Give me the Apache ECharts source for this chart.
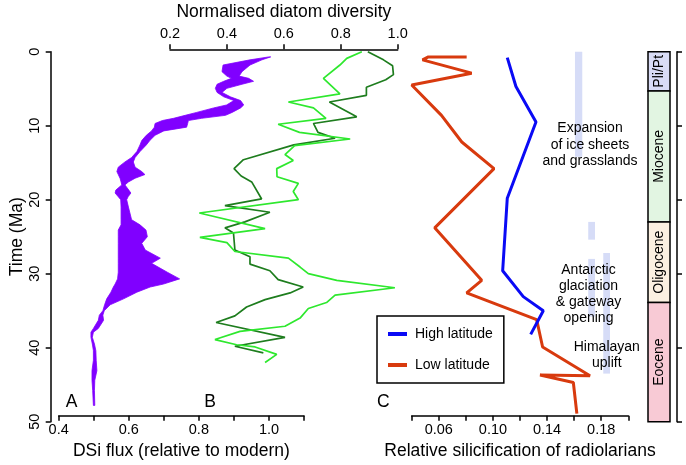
<!DOCTYPE html>
<html>
<head>
    <meta charset="utf-8">
    <title>Silica, diatoms and radiolarians</title>
    <script src="https://cdn.jsdelivr.net/npm/echarts@6/dist/echarts.min.js"></script>
    <style>
        html, body { margin: 0; padding: 0; background: #fff; }
        #main { width: 686px; height: 465px; }
    </style>
</head>
<body>
<div id="main"></div>
<script type="text/javascript">

// time axis (Ma), shared by every panel
var timeTicks = [0, 10, 20, 30, 40, 50];

// A: DSi flux, shaded between lower and upper estimate
var dsiTime = [0.7, 1.1, 1.8, 2.7, 3.3, 3.6, 4.0, 4.4, 4.95, 5.5, 6.1, 6.6, 7.2, 7.6, 8.2, 8.6, 9.0, 9.3, 9.7, 10.2,
    10.7, 11.3, 12.0, 12.6, 13.5, 14.3, 14.9, 15.6, 16.2, 16.6, 17.1, 17.6, 18.0, 18.7, 19.1, 19.6, 20.0, 21.0, 22.7,
    23.4, 24.1, 25.0, 25.9, 26.8, 27.9, 28.6, 29.8, 30.7, 31.4, 31.8, 32.5, 33.4, 34.2, 35.0, 35.6, 36.3, 37.4, 37.9,
    38.6, 39.5, 40.4, 41.7, 43.1, 44.4, 45.8, 47.8];
var dsiLow = [1.000, 0.946, 0.869, 0.866, 0.880, 0.893, 0.871, 0.852, 0.847, 0.852, 0.871, 0.900, 0.879, 0.842, 0.794,
    0.761, 0.728, 0.696, 0.675, 0.673, 0.665, 0.650, 0.637, 0.632, 0.623, 0.608, 0.589, 0.570, 0.566, 0.570, 0.575,
    0.578, 0.580, 0.563, 0.561, 0.570, 0.577, 0.578, 0.578, 0.578, 0.570, 0.570, 0.570, 0.570, 0.570, 0.570, 0.570,
    0.568, 0.561, 0.556, 0.549, 0.537, 0.531, 0.526, 0.516, 0.513, 0.499, 0.492, 0.492, 0.496, 0.499, 0.499, 0.495,
    0.495, 0.497, 0.499];
var dsiHigh = [1.005, 0.980, 0.946, 0.923, 0.915, 0.942, 0.956, 0.923, 0.880, 0.866, 0.890, 0.919, 0.928, 0.919, 0.895,
    0.876, 0.808, 0.770, 0.768, 0.765, 0.700, 0.675, 0.660, 0.650, 0.632, 0.618, 0.613, 0.618, 0.637, 0.646, 0.618,
    0.599, 0.589, 0.600, 0.606, 0.598, 0.594, 0.599, 0.608, 0.632, 0.649, 0.653, 0.637, 0.647, 0.690, 0.665, 0.710,
    0.745, 0.699, 0.661, 0.623, 0.585, 0.547, 0.530, 0.526, 0.528, 0.513, 0.499, 0.496, 0.502, 0.506, 0.507, 0.509,
    0.503, 0.502, 0.503];

// B: normalised diatom diversity, two curves
var darkTime = [0, 1.1, 1.9, 3.1, 3.8, 4.8, 5.9, 6.8, 8.8, 9.7, 10.9, 11.7, 12.6, 14.6, 15.8, 16.8, 17.6, 19.9, 20.8,
    21.7, 23.0, 23.8, 24.5, 26.8, 27.7, 28.7, 29.6, 30.8, 31.8, 32.6, 33.5, 34.5, 35.7, 36.6, 38.6, 39.8, 40.7];
var darkDiv = [0.895, 0.950, 0.982, 0.985, 0.958, 0.890, 0.890, 0.760, 0.856, 0.704, 0.720, 0.780, 0.635, 0.458, 0.425,
    0.450, 0.487, 0.522, 0.393, 0.551, 0.463, 0.393, 0.423, 0.428, 0.481, 0.481, 0.551, 0.580, 0.668, 0.622, 0.534,
    0.469, 0.428, 0.362, 0.604, 0.428, 0.528];
var lightTime = [0, 0.9, 1.8, 3.6, 5.7, 6.8, 7.6, 9.0, 9.8, 10.9, 11.8, 12.7, 13.9, 14.7, 15.8, 16.9, 17.8, 18.9, 20.0,
    21.8, 23.9, 25.1, 25.8, 27.0, 27.9, 29.1, 30.0, 30.9, 31.9, 32.9, 33.9, 34.7, 36.0, 37.1, 37.8, 38.9, 39.6, 39.9,
    40.9, 42.0];
var lightDiv = [0.874, 0.821, 0.797, 0.739, 0.797, 0.616, 0.704, 0.748, 0.580, 0.655, 0.833, 0.638, 0.604, 0.633, 0.575,
    0.576, 0.651, 0.633, 0.651, 0.303, 0.534, 0.305, 0.400, 0.428, 0.616, 0.657, 0.686, 0.786, 0.990, 0.780, 0.750,
    0.686, 0.657, 0.604, 0.446, 0.358, 0.434, 0.499, 0.575, 0.534];

// C: relative silicification of radiolarians
var lowLatTime = [0.7, 0.7, 1.1, 2.9, 4.5, 8.6, 12.2, 15.8, 23.8, 30.9, 32.6, 36.2, 39.9, 43.8, 43.7, 44.7, 48.9];
var lowLatSil = [0.0806, 0.0523, 0.0480, 0.0843, 0.0400, 0.0620, 0.0770, 0.1008, 0.0570, 0.0917, 0.0806, 0.1323,
    0.1367, 0.1717, 0.1348, 0.1594, 0.1620];
var highLatTime = [0.8, 4.7, 9.5, 19.8, 29.6, 33.1, 35.0, 38.2];
var highLatSil = [0.1106, 0.1170, 0.1318, 0.1106, 0.1072, 0.1224, 0.1372, 0.1279];

// epochs (Ma)
var epochNames = ['Pli/Pt', 'Miocene', 'Oligocene', 'Eocene'];
var epochStart = [0, 5.3, 23, 33.9];
var epochEnd = [5.3, 23, 33.9, 50];

// shaded event intervals (Ma)
var eventStart = [0, 23, 28, 27.2];
var eventEnd = [14.2, 25.4, 35.8, 43.5];

// tick positions and labels
var fluxTicks = [0.4, 0.5, 0.6, 0.7, 0.8, 0.9, 1.0, 1.1];
var fluxLabels = ['0.4', '0.6', '0.8', '1.0'];
var divTicks = [0.2, 0.4, 0.6, 0.8, 1.0];
var divLabels = ['0.2', '0.4', '0.6', '0.8', '1.0'];
var silTicks = [0.04, 0.06, 0.08, 0.10, 0.12, 0.14, 0.16, 0.18, 0.20];
var silLabels = ['0.06', '0.10', '0.14', '0.18'];

// styling / layout
var font = 'Liberation Sans, Arial, Helvetica, sans-serif';
var titleSize = 17.5;
var tickSize = 14.5;
var epochColors = ['#d9dcf6', '#e2f5e2', '#fbf0e1', '#f8cad5'];
var eventColumn = [[0.1606, 0.1660], [0.1704, 0.1754], [0.1704, 0.1754], [0.1815, 0.1865]];

function pairs(xs, ts) {
    return ts.map(function (t, i) { return [xs[i], t]; });
}

function labelFmt(labels, digits) {
    return function (v) {
        var s = v.toFixed(digits);
        return labels.indexOf(s) >= 0 ? s : '';
    };
}

function bottomAxis(grid, ticks, labels, digits, name) {
    return {
        gridIndex: grid, type: 'value', position: 'bottom', offset: -6,
        min: ticks[0], max: ticks[ticks.length - 1], interval: ticks[1] - ticks[0],
        name: name, nameLocation: 'middle', nameGap: 22,
        nameTextStyle: { fontSize: titleSize, color: '#000', fontFamily: font },
        axisLine: { onZero: false, lineStyle: { color: '#000', width: 1.5 } },
        axisTick: { length: 5, lineStyle: { color: '#000', width: 1.5 } },
        axisLabel: { fontSize: tickSize, color: '#000', margin: 7, fontFamily: font, formatter: labelFmt(labels, digits) },
        splitLine: { show: false }
    };
}

var timeAxisBase = {
    type: 'value', inverse: true,
    min: timeTicks[0], max: timeTicks[timeTicks.length - 1], interval: timeTicks[1] - timeTicks[0]
};

var textBase = { fontFamily: font, fill: '#000', align: 'center', verticalAlign: 'middle', textAlign: 'center', textVerticalAlign: 'middle' };

var chart = echarts.init(document.getElementById('main'), null, { renderer: 'canvas' });

chart.setOption({
    animation: false,
    backgroundColor: '#fff',
    textStyle: { fontFamily: font },
    grid: [
        { left: 58.7, top: 51.7, width: 245.3, height: 370, outerBoundsMode: 'none' },
        { left: 170, top: 51.7, width: 227.7, height: 370, outerBoundsMode: 'none' },
        { left: 411.7, top: 51.7, width: 216.6, height: 370, outerBoundsMode: 'none' },
        { left: 648, top: 51.7, width: 22, height: 370, outerBoundsMode: 'none' }
    ],
    xAxis: [
        bottomAxis(0, fluxTicks, fluxLabels, 1, 'DSi flux (relative to modern)'),
        {
            gridIndex: 1, type: 'value', position: 'top', offset: 2.4,
            min: divTicks[0], max: divTicks[divTicks.length - 1], interval: divTicks[1] - divTicks[0],
            name: 'Normalised diatom diversity', nameLocation: 'middle', nameGap: 28,
            nameTextStyle: { fontSize: titleSize, color: '#000', fontFamily: font },
            axisLine: { onZero: false, lineStyle: { color: '#000', width: 1.5 } },
            axisTick: { length: 5, lineStyle: { color: '#000', width: 1.5 } },
            axisLabel: { fontSize: tickSize, color: '#000', margin: 8, fontFamily: font, formatter: labelFmt(divLabels, 1) },
            splitLine: { show: false }
        },
        bottomAxis(2, silTicks, silLabels, 2, 'Relative silicification of radiolarians'),
        { gridIndex: 3, type: 'value', min: 0, max: 1, show: false }
    ],
    yAxis: [
        Object.assign({}, timeAxisBase, {
            gridIndex: 0, position: 'left', offset: 8,
            name: 'Time (Ma)', nameLocation: 'middle', nameGap: 25,
            nameTextStyle: { fontSize: titleSize, color: '#000', fontFamily: font },
            axisLine: { onZero: false, lineStyle: { color: '#000', width: 1.5 } },
            axisTick: { length: 5, lineStyle: { color: '#000', width: 1.5 } },
            axisLabel: { fontSize: tickSize, color: '#000', rotate: 90, margin: 8, fontFamily: font },
            splitLine: { show: false }
        }),
        Object.assign({}, timeAxisBase, { gridIndex: 1, show: false }),
        Object.assign({}, timeAxisBase, { gridIndex: 2, show: false }),
        Object.assign({}, timeAxisBase, {
            gridIndex: 3, position: 'right', offset: 7,
            axisLine: { onZero: false, lineStyle: { color: '#000', width: 1.5 } },
            axisTick: { length: 5, lineStyle: { color: '#000', width: 1.5 } },
            axisLabel: { show: false },
            splitLine: { show: false }
        })
    ],
    legend: {
        data: ['High latitude', 'Low latitude'],
        orient: 'vertical', left: 377, top: 316,
        padding: [11, 11, 11, 11], itemGap: 17,
        itemWidth: 19, itemHeight: 4, icon: 'rect',
        borderColor: '#000', borderWidth: 1.5, borderRadius: 0,
        selectedMode: false,
        textStyle: { fontSize: 14, color: '#000', fontFamily: font, padding: [0, 0, 0, 3] }
    },
    graphic: [
        { type: 'text', x: 71.7, y: 401.7, style: Object.assign({ text: 'A', fontSize: 17.5 }, textBase) },
        { type: 'text', x: 210, y: 401.7, style: Object.assign({ text: 'B', fontSize: 17.5 }, textBase) },
        { type: 'text', x: 383.3, y: 401.7, style: Object.assign({ text: 'C', fontSize: 17.5 }, textBase) },
        { type: 'text', z: 10, x: 590, y: 145, style: Object.assign({ text: 'Expansion\nof ice sheets\nand grasslands', lineHeight: 16.5, fontSize: 14 }, textBase) },
        { type: 'text', z: 10, x: 588.5, y: 294, style: Object.assign({ text: 'Antarctic\nglaciation\n& gateway\nopening', lineHeight: 15.9, fontSize: 14 }, textBase) },
        { type: 'text', z: 10, x: 606.8, y: 355.3, style: Object.assign({ text: 'Himalayan\nuplift', lineHeight: 16, fontSize: 14 }, textBase) }
    ],
    series: [
        {
            name: 'DSi flux', type: 'custom', xAxisIndex: 0, yAxisIndex: 0,
            data: [[0, 0]],
            renderItem: function (params, api) {
                var pts = [];
                for (var i = 0; i < dsiTime.length; i++) pts.push(api.coord([dsiLow[i], dsiTime[i]]));
                for (var j = dsiTime.length - 1; j >= 0; j--) pts.push(api.coord([dsiHigh[j], dsiTime[j]]));
                return { type: 'polygon', shape: { points: pts }, style: { fill: '#8000ff', stroke: '#8000ff', lineWidth: 0.8 } };
            }
        },
        {
            name: 'Diversity (dark)', type: 'line', xAxisIndex: 1, yAxisIndex: 1,
            data: pairs(darkDiv, darkTime), symbol: 'none',
            lineStyle: { color: '#1e7d1e', width: 1.7 }
        },
        {
            name: 'Diversity (light)', type: 'line', xAxisIndex: 1, yAxisIndex: 1,
            data: pairs(lightDiv, lightTime), symbol: 'none',
            lineStyle: { color: '#2ee82e', width: 1.7 }
        },
        {
            name: 'Events', type: 'custom', xAxisIndex: 2, yAxisIndex: 2, z: 1,
            data: eventStart.map(function (s, i) { return [i, s, eventEnd[i]]; }),
            renderItem: function (params, api) {
                var i = api.value(0);
                var p0 = api.coord([eventColumn[i][0], api.value(1)]);
                var p1 = api.coord([eventColumn[i][1], api.value(2)]);
                return { type: 'rect', shape: { x: p0[0], y: p0[1], width: p1[0] - p0[0], height: p1[1] - p0[1] }, style: { fill: '#d6dcf7' } };
            }
        },
        {
            name: 'Low latitude', type: 'line', xAxisIndex: 2, yAxisIndex: 2, z: 3,
            data: pairs(lowLatSil, lowLatTime), symbol: 'none',
            itemStyle: { color: '#d83a0e' },
            lineStyle: { color: '#d83a0e', width: 3 }
        },
        {
            name: 'High latitude', type: 'line', xAxisIndex: 2, yAxisIndex: 2, z: 4,
            data: pairs(highLatSil, highLatTime), symbol: 'none',
            itemStyle: { color: '#0a0af5' },
            lineStyle: { color: '#0a0af5', width: 3 }
        },
        {
            name: 'Epochs', type: 'custom', xAxisIndex: 3, yAxisIndex: 3,
            data: epochStart.map(function (s, i) { return [i, s, epochEnd[i]]; }),
            renderItem: function (params, api) {
                var i = api.value(0);
                var p0 = api.coord([0, api.value(1)]);
                var p1 = api.coord([1, api.value(2)]);
                return {
                    type: 'group',
                    children: [
                        { type: 'rect', shape: { x: p0[0], y: p0[1], width: p1[0] - p0[0], height: p1[1] - p0[1] },
                          style: { fill: epochColors[i], stroke: '#000', lineWidth: 1.5 } },
                        { type: 'text', x: (p0[0] + p1[0]) / 2, y: (p0[1] + p1[1]) / 2, rotation: Math.PI / 2,
                          style: Object.assign({ text: epochNames[i], fontSize: 14 }, textBase) }
                    ]
                };
            }
        }
    ]
});
</script>
</body>
</html>
